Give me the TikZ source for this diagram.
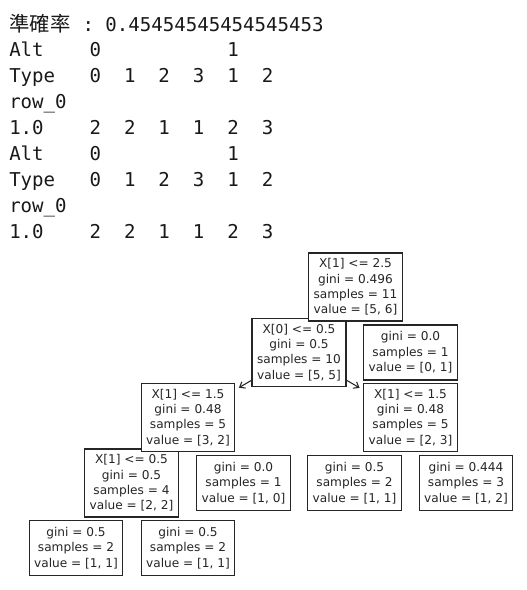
\documentclass[tikz,border=0pt]{standalone}
\usepackage{fontspec}
\setmainfont{DejaVu Sans}
\newfontfamily\monofont{DejaVu Sans Mono}
\newfontfamily\cjkfont{Noto Sans CJK TC}
\usetikzlibrary{arrows.meta,backgrounds}
\begin{document}
\begin{tikzpicture}[x=0.75pt,y=-0.75pt,
  cons/.style={anchor=base west,inner sep=0pt,text=black!90,font=\monofont\fontsize{14.3}{17}\selectfont},
  treebox/.style={draw=black!85,fill=white,line width=0.9pt,align=center,inner xsep=3.8pt,inner ysep=1pt,font=\fontsize{9.1}{11.5}\selectfont,text=black!85},
  four/.style={treebox,minimum height=51pt},
  three/.style={treebox,minimum height=41.25pt},
  edge/.style={draw=black!85,line width=0.8pt,shorten >=3pt,-{Straight Barb[length=3.5pt,width=5.5pt]}}]
\useasboundingbox (0,0) rectangle (526,590);

% console text
\node[cons,font=\cjkfont\fontsize{15.3}{17}\selectfont] (acc) at (9,31) {準確率};
\node[cons] (accval) at (82.25,31) {:~0.45454545454545453};
\node[cons] (l2) at (9,56.9) {Alt~~~~0~~~~~~~~~~~1};
\node[cons] (l3) at (9,82.8) {Type~~~0~~1~~2~~3~~1~~2};
\node[cons] (l4) at (9,108.7) {row\_0};
\node[cons] (l5) at (9,134.6) {1.0~~~~2~~2~~1~~1~~2~~3};
\node[cons] (l6) at (9,160.5) {Alt~~~~0~~~~~~~~~~~1};
\node[cons] (l7) at (9,186.4) {Type~~~0~~1~~2~~3~~1~~2};
\node[cons] (l8) at (9,212.3) {row\_0};
\node[cons] (l9) at (9,238.2) {1.0~~~~2~~2~~1~~1~~2~~3};

% tree (children first, so parents lie on top)
\node[three] (n10) at (188,548) {gini = 0.5\\samples = 2\\value = [1, 1]};
\node[three] (n9) at (76,548) {gini = 0.5\\samples = 2\\value = [1, 1]};
\node[three] (n8) at (466,483) {gini = 0.444\\samples = 3\\value = [1, 2]};
\node[three] (n7) at (354.5,483) {gini = 0.5\\samples = 2\\value = [1, 1]};
\node[three] (n6) at (243.5,483) {gini = 0.0\\samples = 1\\value = [1, 0]};
\node[four] (n5) at (131.5,483) {X[1] <= 0.5\\gini = 0.5\\samples = 4\\value = [2, 2]};
\node[four] (n4) at (410.5,417.5) {X[1] <= 1.5\\gini = 0.48\\samples = 5\\value = [2, 3]};
\node[four] (n3) at (188,417.5) {X[1] <= 1.5\\gini = 0.48\\samples = 5\\value = [3, 2]};
\node[three] (n2) at (410.5,352.5) {gini = 0.0\\samples = 1\\value = [0, 1]};
\node[four] (n1) at (299,352.5) {X[0] <= 0.5\\gini = 0.5\\samples = 10\\value = [5, 5]};
\node[four] (root) at (355.5,287) {X[1] <= 2.5\\gini = 0.496\\samples = 11\\value = [5, 6]};

\begin{scope}[on background layer]
\fill[white] (0,0) rectangle (526,590);
\draw[edge] (root.center) -- (n1);
\draw[edge] (root.center) -- (n2);
\draw[edge] (n1.center) -- (n3);
\draw[edge] (n1.center) -- (n4);
\draw[edge] (n3.center) -- (n5);
\draw[edge] (n3.center) -- (n6);
\draw[edge] (n4.center) -- (n7);
\draw[edge] (n4.center) -- (n8);
\draw[edge] (n5.center) -- (n9);
\draw[edge] (n5.center) -- (n10);
\end{scope}
\end{tikzpicture}
\end{document}
